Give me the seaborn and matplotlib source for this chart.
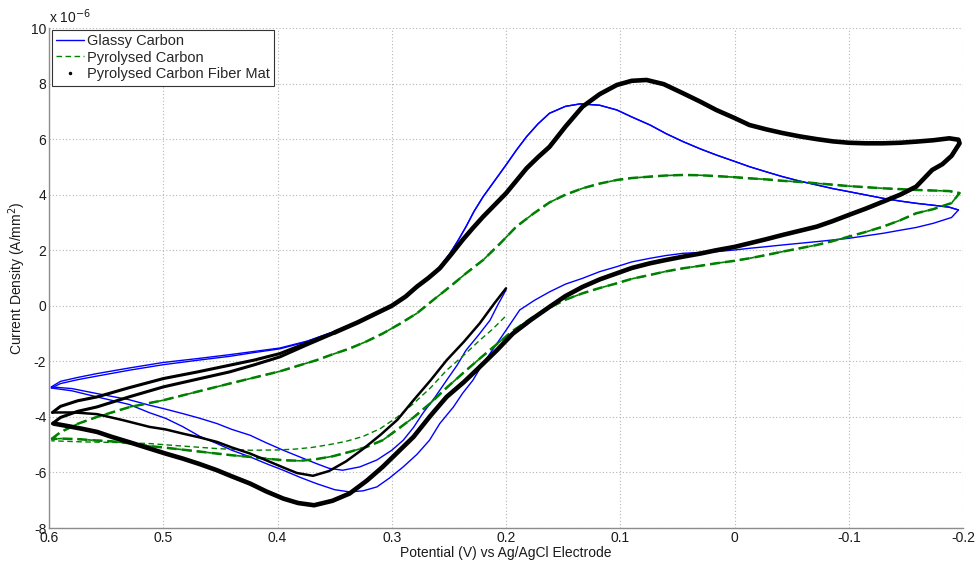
import numpy as np
import matplotlib
matplotlib.use("Agg")
import matplotlib.pyplot as plt
from matplotlib.lines import Line2D
from matplotlib.ticker import MultipleLocator
import seaborn as sns

# === data (current in units of 1e-6 A/mm^2) ===
# Glassy Carbon - first sweep from 0.2 V
gc_first_v = [0.200, 0.207, 0.214, 0.224, 0.235, 0.243, 0.252, 0.262, 0.273, 0.281, 0.290, 0.300,
              0.313, 0.328, 0.343, 0.355, 0.366, 0.380, 0.395, 0.410, 0.424, 0.440, 0.453, 0.468,
              0.483, 0.498, 0.512, 0.530, 0.558, 0.580, 0.598]
gc_first_i = [0.57, 0.05, -0.52, -1.05, -1.60, -2.15, -2.68, -3.28, -3.88, -4.38, -4.84, -5.20,
              -5.55, -5.80, -5.92, -5.85, -5.68, -5.45, -5.20, -4.93, -4.66, -4.45, -4.24, -4.05,
              -3.88, -3.72, -3.58, -3.38, -3.16, -2.98, -2.92]
# upper branch, two cycles near the 0.6 V end
gc_up1_v = [0.598, 0.590, 0.575, 0.558, 0.530, 0.500, 0.470, 0.442, 0.420, 0.398, 0.375]
gc_up1_i = [-2.92, -2.72, -2.58, -2.44, -2.24, -2.04, -1.90, -1.76, -1.64, -1.52, -1.28]
gc_up2_v = [0.598, 0.590, 0.575, 0.558, 0.530, 0.500, 0.470, 0.442, 0.420, 0.398, 0.375]
gc_up2_i = [-2.96, -2.80, -2.66, -2.53, -2.32, -2.12, -1.96, -1.82, -1.68, -1.55, -1.30]
gc_upc_v = [0.375, 0.350, 0.330, 0.315, 0.300, 0.288, 0.278, 0.268, 0.258, 0.249, 0.242, 0.235,
            0.228, 0.220, 0.210, 0.200, 0.191, 0.182, 0.172, 0.162, 0.148, 0.135, 0.118, 0.103,
            0.090, 0.074, 0.060, 0.045, 0.030, 0.016, 0.000, -0.013, -0.028, -0.042, -0.057,
            -0.072, -0.086, -0.100, -0.115, -0.130, -0.145, -0.159, -0.174, -0.188, -0.196]
gc_upc_i = [-1.29, -0.92, -0.58, -0.28, 0.03, 0.36, 0.70, 1.02, 1.40, 1.89, 2.35, 2.85,
            3.40, 3.93, 4.50, 5.07, 5.60, 6.09, 6.55, 6.93, 7.18, 7.27, 7.22, 7.05,
            6.80, 6.51, 6.20, 5.91, 5.65, 5.43, 5.20, 5.01, 4.82, 4.65, 4.49,
            4.35, 4.22, 4.11, 3.99, 3.87, 3.77, 3.69, 3.62, 3.55, 3.45]
gc_dn_v = [-0.196, -0.190, -0.174, -0.159, -0.145, -0.130, -0.115, -0.100, -0.086, -0.072, -0.057,
           -0.042, -0.028, -0.013, 0.000, 0.016, 0.030, 0.045, 0.060, 0.074, 0.090, 0.103, 0.118,
           0.133, 0.148, 0.162, 0.175, 0.188, 0.200, 0.207, 0.214, 0.222, 0.229, 0.238, 0.246,
           0.258, 0.267, 0.278, 0.290, 0.302, 0.313, 0.325, 0.337, 0.350, 0.366, 0.380, 0.395,
           0.410, 0.424, 0.440, 0.453, 0.468, 0.483, 0.498, 0.512, 0.530, 0.558, 0.580, 0.598]
gc_dn_i = [3.45, 3.18, 2.97, 2.82, 2.72, 2.61, 2.52, 2.43, 2.37, 2.31, 2.25,
           2.19, 2.13, 2.07, 2.01, 1.95, 1.92, 1.89, 1.81, 1.71, 1.58, 1.41, 1.23,
           0.99, 0.78, 0.50, 0.20, -0.15, -0.88, -1.30, -1.72, -2.20, -2.68, -3.15, -3.64,
           -4.24, -4.84, -5.35, -5.80, -6.20, -6.52, -6.66, -6.70, -6.62, -6.40, -6.18, -5.92,
           -5.68, -5.44, -5.20, -4.96, -4.70, -4.35, -4.05, -3.85, -3.55, -3.28, -3.06, -2.96]

# Pyrolysed Carbon
pc_first_v = [0.201, 0.212, 0.223, 0.237, 0.252, 0.266, 0.281, 0.295, 0.310, 0.325, 0.340, 0.355,
              0.370, 0.385, 0.400, 0.424, 0.453, 0.483, 0.512, 0.540, 0.570, 0.598]
pc_first_i = [-0.40, -0.85, -1.24, -1.78, -2.32, -2.95, -3.52, -4.00, -4.42, -4.70, -4.88, -5.00,
              -5.10, -5.16, -5.19, -5.20, -5.14, -5.05, -4.96, -4.92, -4.90, -4.86]
pc_up_v = [0.598, 0.590, 0.575, 0.558, 0.529, 0.500, 0.471, 0.442, 0.412, 0.398, 0.383, 0.366,
           0.352, 0.337, 0.322, 0.308, 0.293, 0.278, 0.264, 0.249, 0.235, 0.220, 0.205, 0.191,
           0.176, 0.162, 0.148, 0.133, 0.118, 0.103, 0.090, 0.074, 0.060, 0.045, 0.030, 0.016,
           0.000, -0.013, -0.028, -0.042, -0.057, -0.072, -0.086, -0.100, -0.115, -0.130, -0.145,
           -0.159, -0.174, -0.188, -0.197]
pc_up_i = [-4.80, -4.55, -4.25, -4.00, -3.64, -3.40, -3.10, -2.80, -2.50, -2.36, -2.17, -1.96,
           -1.75, -1.54, -1.28, -1.00, -0.65, -0.27, 0.20, 0.69, 1.17, 1.65, 2.25, 2.85,
           3.32, 3.72, 4.00, 4.23, 4.40, 4.53, 4.60, 4.65, 4.69, 4.71, 4.70, 4.67,
           4.63, 4.59, 4.55, 4.50, 4.46, 4.41, 4.36, 4.31, 4.27, 4.23, 4.20,
           4.17, 4.15, 4.13, 4.06]
pc_dn_v = [-0.197, -0.190, -0.174, -0.159, -0.145, -0.130, -0.115, -0.100, -0.086, -0.072, -0.057,
           -0.042, -0.028, -0.013, 0.000, 0.016, 0.030, 0.045, 0.060, 0.074, 0.090, 0.103, 0.118,
           0.133, 0.148, 0.162, 0.178, 0.194, 0.208, 0.223, 0.237, 0.252, 0.266, 0.281, 0.295,
           0.308, 0.322, 0.337, 0.352, 0.366, 0.380, 0.395, 0.410, 0.424, 0.440, 0.453, 0.470,
           0.483, 0.500, 0.512, 0.529, 0.545, 0.558, 0.575, 0.590, 0.598]
pc_dn_i = [4.06, 3.70, 3.48, 3.33, 3.08, 2.85, 2.66, 2.49, 2.33, 2.19, 2.07,
           1.95, 1.83, 1.71, 1.62, 1.53, 1.44, 1.35, 1.24, 1.11, 0.97, 0.81, 0.64,
           0.45, 0.22, -0.07, -0.45, -0.90, -1.38, -1.90, -2.40, -2.95, -3.50, -4.02, -4.45,
           -4.84, -5.08, -5.26, -5.42, -5.52, -5.58, -5.56, -5.50, -5.44, -5.38, -5.32, -5.24,
           -5.18, -5.10, -5.05, -4.95, -4.88, -4.85, -4.80, -4.78, -4.80]

# Pyrolysed Carbon Fiber Mat
cf_first_v = [0.200, 0.210, 0.223, 0.237, 0.252, 0.266, 0.281, 0.295, 0.310, 0.325, 0.340, 0.355,
              0.369, 0.383, 0.395, 0.410, 0.424, 0.440, 0.453, 0.468, 0.483, 0.498, 0.512, 0.535,
              0.558, 0.578, 0.597]
cf_first_i = [0.63, 0.10, -0.63, -1.30, -1.96, -2.68, -3.40, -4.10, -4.65, -5.15, -5.60, -5.95,
              -6.12, -6.02, -5.82, -5.56, -5.32, -5.10, -4.90, -4.74, -4.60, -4.45, -4.36, -4.12,
              -3.90, -3.84, -3.84]
cf_up1_v = [0.597, 0.590, 0.575, 0.558, 0.530, 0.500, 0.470, 0.442, 0.420, 0.398, 0.375, 0.350]
cf_up1_i = [-3.84, -3.62, -3.42, -3.28, -2.95, -2.62, -2.38, -2.14, -1.95, -1.72, -1.35, -0.95]
cf_up2_v = [0.597, 0.590, 0.575, 0.558, 0.530, 0.500, 0.470, 0.442, 0.420, 0.398, 0.375, 0.350]
cf_up2_i = [-4.24, -4.02, -3.80, -3.64, -3.28, -2.92, -2.64, -2.38, -2.12, -1.84, -1.42, -0.98]
cf_upc_v = [0.350, 0.330, 0.315, 0.300, 0.288, 0.278, 0.268, 0.258, 0.248, 0.238, 0.229, 0.220,
            0.210, 0.200, 0.191, 0.182, 0.172, 0.162, 0.148, 0.133, 0.118, 0.103, 0.090, 0.077,
            0.062, 0.045, 0.030, 0.016, 0.000, -0.013, -0.028, -0.042, -0.057, -0.072, -0.086,
            -0.100, -0.115, -0.130, -0.145, -0.159, -0.174, -0.188, -0.196]
cf_upc_i = [-0.96, -0.60, -0.30, 0.00, 0.33, 0.69, 1.00, 1.35, 1.85, 2.37, 2.80, 3.21,
            3.63, 4.05, 4.50, 4.95, 5.35, 5.72, 6.45, 7.17, 7.62, 7.95, 8.10, 8.13,
            7.98, 7.65, 7.35, 7.05, 6.76, 6.51, 6.35, 6.22, 6.10, 6.00, 5.92,
            5.87, 5.85, 5.85, 5.87, 5.91, 5.96, 6.03, 5.98]
cf_dn_v = [-0.197, -0.190, -0.182, -0.173, -0.159, -0.145, -0.130, -0.115, -0.100, -0.086, -0.072,
           -0.057, -0.042, -0.028, -0.013, 0.000, 0.016, 0.030, 0.045, 0.060, 0.074, 0.090, 0.103,
           0.118, 0.133, 0.148, 0.162, 0.178, 0.194, 0.208, 0.223, 0.237, 0.252, 0.266, 0.281,
           0.295, 0.308, 0.322, 0.337, 0.352, 0.368, 0.382, 0.395, 0.410, 0.424, 0.440, 0.453,
           0.468, 0.483, 0.498, 0.512, 0.529, 0.545, 0.558, 0.572, 0.585, 0.596]
cf_dn_i = [5.85, 5.40, 5.10, 4.89, 4.29, 4.00, 3.75, 3.50, 3.27, 3.05, 2.85,
           2.70, 2.55, 2.40, 2.25, 2.12, 2.00, 1.88, 1.77, 1.65, 1.53, 1.36, 1.17,
           0.95, 0.68, 0.35, -0.04, -0.50, -1.00, -1.60, -2.20, -2.75, -3.28, -3.95, -4.72,
           -5.28, -5.80, -6.30, -6.76, -7.02, -7.18, -7.10, -6.94, -6.68, -6.40, -6.14, -5.92,
           -5.70, -5.50, -5.32, -5.14, -4.92, -4.72, -4.54, -4.42, -4.32, -4.24]

x_ticks = [0.6, 0.5, 0.4, 0.3, 0.2, 0.1, 0.0, -0.1, -0.2]
x_labels = ["0.6", "0.5", "0.4", "0.3", "0.2", "0.1", "0", "-0.1", "-0.2"]
y_ticks = [-8, -6, -4, -2, 0, 2, 4, 6, 8, 10]

blue = "#0000ff"
green = "#008000"

sns.set_style("white")
plt.rcParams["font.family"] = ["Liberation Sans", "DejaVu Sans"]
plt.rcParams["axes.unicode_minus"] = False

fig = plt.figure(figsize=(9.75, 5.64), dpi=100)
ax = fig.add_axes([0.0503, 0.0638, 0.9374, 0.8865])


def trace(v, i, **kw):
    sns.lineplot(x=v, y=i, sort=False, estimator=None, ax=ax, legend=False, **kw)


# glassy carbon
trace(gc_first_v, gc_first_i, color=blue, linewidth=1.0)
trace(gc_up1_v + gc_upc_v, gc_up1_i + gc_upc_i, color=blue, linewidth=1.0)
trace(gc_dn_v, gc_dn_i, color=blue, linewidth=1.0)
trace(gc_up2_v + gc_upc_v, gc_up2_i + gc_upc_i, color=blue, linewidth=1.0)

# pyrolysed carbon, repeated cycles give a thick dashed band
trace(pc_first_v, pc_first_i, color=green, linewidth=1.0, linestyle=(0, (4, 2.5)))
trace(pc_up_v + pc_dn_v, pc_up_i + pc_dn_i, color=green, linewidth=1.8, linestyle=(0, (4, 2)))
trace(pc_up_v + pc_dn_v, pc_up_i + pc_dn_i, color=green, linewidth=1.2, linestyle=(3, (3, 3)))

# carbon fiber mat
trace(cf_first_v, cf_first_i, color="black", linewidth=1.8)
trace(cf_up1_v, cf_up1_i, color="black", linewidth=2.2)
trace(cf_up2_v, cf_up2_i, color="black", linewidth=2.2)
trace(cf_upc_v + cf_dn_v, cf_upc_i + cf_dn_i, color="black", linewidth=3.3)

ax.set_xlim(0.6, -0.2)
ax.set_ylim(-8, 10)
ax.set_xticks(x_ticks)
ax.set_xticklabels(x_labels)
ax.set_yticks(y_ticks)
ax.xaxis.set_minor_locator(MultipleLocator(0.02))
ax.yaxis.set_minor_locator(MultipleLocator(1))
ax.tick_params(which="both", direction="in", color="#7f7f7f", labelsize=10, labelcolor="#1a1a1a")
ax.tick_params(which="major", length=4, pad=2)
ax.tick_params(which="minor", length=2.5)
ax.grid(True, which="major", linestyle=(0, (1, 2)), color="#b5b5b5", linewidth=0.8)
for s in ["top", "right"]:
    ax.spines[s].set_visible(False)
for s in ["left", "bottom"]:
    ax.spines[s].set_color("#8c8c8c")
    ax.spines[s].set_linewidth(1.0)

ax.set_xlabel("Potential (V) vs Ag/AgCl Electrode", fontsize=10, color="#1a1a1a")
ax.set_ylabel("Current Density (A/mm$^2$)", fontsize=10, color="#1a1a1a")
ax.xaxis.set_label_coords(0.5, -0.035)
ax.yaxis.set_label_coords(-0.023, 0.5)
ax.text(0.0, 1.004, "x 10$^{-6}$", transform=ax.transAxes, ha="left", va="bottom",
        fontsize=10, color="#1a1a1a")

handles = [
    Line2D([], [], color=blue, linewidth=1.0),
    Line2D([], [], color=green, linewidth=1.0, linestyle=(0, (4, 2.5))),
    Line2D([], [], color="black", marker=".", markersize=3, linestyle="none"),
]
labels = ["Glassy Carbon", "Pyrolysed Carbon", "Pyrolysed Carbon Fiber Mat"]
leg = ax.legend(handles, labels, loc="upper left", bbox_to_anchor=(0.003, 0.997), fontsize=10.5,
                frameon=True, fancybox=False, framealpha=1, edgecolor="#333333",
                handlelength=1.9, handletextpad=0.2, borderpad=0.3, labelspacing=0.18,
                borderaxespad=0.0)
leg.get_frame().set_linewidth(0.8)

fig.savefig("out.png", dpi=100)
